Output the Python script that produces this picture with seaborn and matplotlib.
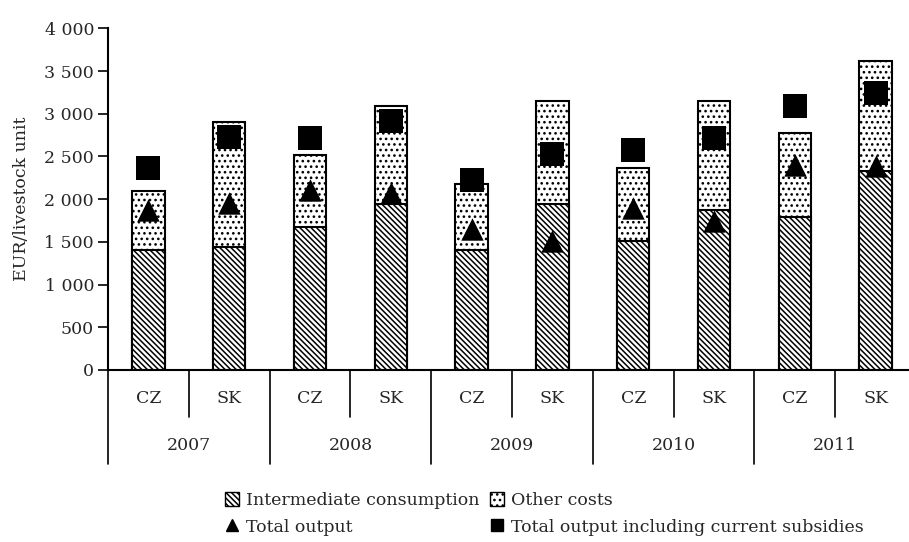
import numpy as np
import pandas as pd
import seaborn as sns
import matplotlib
matplotlib.use("Agg")
import matplotlib.pyplot as plt
from matplotlib.patches import Patch
from matplotlib.lines import Line2D
from matplotlib.ticker import FuncFormatter

years = ["2007", "2008", "2009", "2010", "2011"]
countries = ["CZ", "SK"]
intermediate = [1400, 1440, 1670, 1940, 1400, 1940, 1510, 1870, 1790, 2330]
total_costs = [2100, 2900, 2520, 3090, 2180, 3150, 2360, 3150, 2770, 3620]
total_output = [1870, 1960, 2110, 2070, 1650, 1510, 1900, 1750, 2400, 2390]
output_subsidies = [2370, 2730, 2720, 2910, 2230, 2530, 2580, 2710, 3090, 3240]

sns.set_style("white")
plt.rcParams['font.family'] = ['DejaVu Serif']
plt.rcParams['hatch.linewidth'] = 1.1

keys = [y + " " + c for y in years for c in countries]
df = pd.DataFrame({
    "key": keys,
    "intermediate": intermediate,
    "total": total_costs,
    "output": total_output,
    "subsidies": output_subsidies,
})

stripes = "\\" * 6
dots = "..."

fig = plt.figure(figsize=(9.09, 5.42), dpi=100)
ax = fig.add_axes([108 / 909, 172 / 542, 808 / 909, 341.7 / 542])

# other costs on top = full cost bar drawn first, intermediate drawn over it
sns.barplot(data=df, x="key", y="total", order=keys, color="white",
            edgecolor="black", linewidth=1.5, hatch=dots, width=0.4, ax=ax)
sns.barplot(data=df, x="key", y="intermediate", order=keys, color="white",
            edgecolor="black", linewidth=1.5, hatch=stripes, width=0.4, ax=ax)

sns.scatterplot(data=df, x="key", y="output", marker="^", color="black",
                s=260, linewidth=0, ax=ax, zorder=5)
sns.scatterplot(data=df, x="key", y="subsidies", marker="s", color="black",
                s=290, linewidth=0, ax=ax, zorder=5)

ax.set_xlim(-0.5, 9.5)
ax.set_ylim(0, 4000)
ax.set_yticks(np.arange(0, 4001, 500))
ax.yaxis.set_major_formatter(FuncFormatter(lambda v, p: f"{int(v):,}".replace(",", " ")))
ax.tick_params(axis="y", left=True, length=7, width=1.2, labelsize=12.5, pad=3, color="black")
ax.set_xticks([])
ax.set_xlabel("")
ax.set_ylabel("EUR/livestock unit", fontsize=12.5, labelpad=10)

sns.despine(ax=ax, top=True, right=True)
for s in ["left", "bottom"]:
    ax.spines[s].set_color("black")
    ax.spines[s].set_linewidth(1.5)

# two level category axis
tr = ax.get_xaxis_transform()
for i, k in enumerate(keys):
    ax.text(i, -0.082, countries[i % 2], transform=tr, ha="center", va="center", fontsize=12.5)
for j, y in enumerate(years):
    ax.text(2 * j + 0.5, -0.222, y, transform=tr, ha="center", va="center", fontsize=12.5)
    ax.plot([2 * j + 0.5, 2 * j + 0.5], [0, -0.138], transform=tr, color="black",
            lw=1.2, clip_on=False)
for b in np.arange(-0.5, 10, 2):
    ax.plot([b, b], [0, -0.276], transform=tr, color="black", lw=1.2, clip_on=False)

handles = [
    Patch(facecolor="white", edgecolor="black", hatch=stripes, label="Intermediate consumption"),
    Line2D([], [], marker="^", color="black", linestyle="none", markersize=9, label="Total output"),
    Patch(facecolor="white", edgecolor="black", hatch=dots, label="Other costs"),
    Line2D([], [], marker="s", color="black", linestyle="none", markersize=9,
           label="Total output including current subsidies"),
]
fig.legend(handles=handles, ncol=2, loc="upper left", bbox_to_anchor=(213 / 909, 1 - 480 / 542),
           frameon=False, fontsize=12.5, handlelength=0.8, handleheight=0.8,
           handletextpad=0.4, columnspacing=0.6, labelspacing=0.55, borderpad=0.2)

fig.savefig("out.png", dpi=100)
